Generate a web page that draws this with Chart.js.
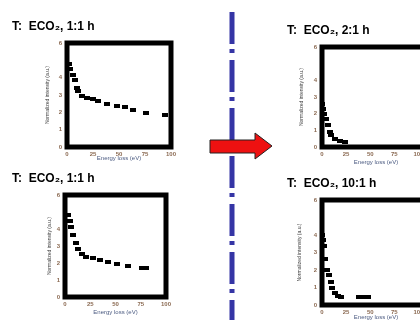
<!DOCTYPE html>
<html>
<head>
<meta charset="utf-8">
<script src="https://cdn.jsdelivr.net/npm/chart.js@4"></script>
<style>
  html, body { margin: 0; padding: 0; background: #fff; width: 420px; height: 320px; overflow: hidden; position: relative; }
  canvas { position: absolute; }
  svg { position: absolute; left: 0; top: 0; }
</style>
</head>
<body>
<canvas id="w1" style="left:0;top:16px" width="180" height="147"></canvas>
<canvas id="w2" style="left:0;top:168px" width="175" height="149"></canvas>
<canvas id="w3" style="left:287px;top:20px" width="148" height="147"></canvas>
<canvas id="w4" style="left:287px;top:173px" width="148" height="148"></canvas>

<svg width="420" height="320">
  <line x1="232" y1="12" x2="232" y2="320" stroke="#3535a5" stroke-width="5" stroke-dasharray="32 5 4 7"/>
  <polygon points="210,140 255,140 255,133 272,146 255,159 255,153 210,153" fill="#ee1111" stroke="#222" stroke-width="1"/>
</svg>

<script>
// dane
const tytuly = ['T:  ECO₂, 1:1 h', 'T:  ECO₂, 1:1 h', 'T:  ECO₂, 2:1 h', 'T:  ECO₂, 10:1 h'];
const osX = 'Energy loss (eV)';
const osY = 'Normalized intensity (a.u.)';
const xTicks = [0, 25, 50, 75, 100];
const yTicks = [0, 1, 2, 3, 4, 6];

const x1 = [1.6, 2.5, 5.4, 7.3, 9.5, 11, 14, 19, 25, 30, 38, 48, 56, 63, 76, 94];
const y1 = [4.8, 4.5, 4.14, 3.84, 3.42, 3.24, 2.94, 2.85, 2.76, 2.64, 2.46, 2.34, 2.28, 2.16, 1.98, 1.86];

const x2 = [3, 5, 6, 8, 10.5, 13, 17, 21, 28, 35, 43, 51, 62, 76, 80];
const y2 = [4.8, 4.5, 4.14, 3.66, 3.18, 2.85, 2.52, 2.34, 2.28, 2.16, 2.04, 1.92, 1.8, 1.71, 1.71];

const x3 = [0.5, 1, 2, 3.8, 6.2, 8, 9.7, 13.2, 18.4, 23.6];
const y3 = [2.58, 2.28, 1.98, 1.68, 1.32, 0.9, 0.72, 0.48, 0.36, 0.3];

const x4 = [0.5, 1, 2, 3.5, 5.5, 7, 9, 10.4, 13.2, 16.7, 20, 38, 43, 48];
const y4 = [4.02, 3.72, 3.36, 2.64, 1.98, 1.74, 1.32, 0.96, 0.66, 0.51, 0.48, 0.44, 0.44, 0.44];

// kreska jako punkt
const kreska = document.createElement('canvas');
kreska.width = 6; kreska.height = 4;
const kctx = kreska.getContext('2d');
kctx.fillStyle = '#000';
kctx.fillRect(0, 0, 6, 4);

const ramka = {
  id: 'ramka',
  beforeDatasetsDraw(chart) {
    const a = chart.chartArea;
    const ctx = chart.ctx;
    ctx.save();
    ctx.strokeStyle = '#000';
    ctx.lineWidth = 5;
    ctx.strokeRect(a.left, a.top, a.right - a.left, a.bottom - a.top);
    ctx.restore();
  }
};

function wykres(id, tytul, xs, ys, o) {
  new Chart(document.getElementById(id), {
    type: 'scatter',
    data: {
      datasets: [{
        data: xs.map((x, i) => ({ x: x, y: ys[i] })),
        pointStyle: kreska,
        showLine: false
      }]
    },
    options: {
      responsive: false,
      animation: false,
      layout: { padding: { left: o.padL, right: o.padR, top: 0, bottom: 0 } },
      plugins: {
        legend: { display: false },
        tooltip: { enabled: false },
        title: {
          display: true, text: tytul, align: 'start', color: '#000',
          font: { family: 'Liberation Sans', size: 12, weight: 'bold', lineHeight: 1 },
          padding: { top: 5, bottom: 10 }
        }
      },
      scales: {
        x: {
          type: 'linear', min: 0, max: o.xMax,
          grid: { display: false, drawTicks: false },
          border: { display: false },
          afterBuildTicks: s => { s.ticks = xTicks.map(v => ({ value: v })); },
          afterFit: s => { s.height = o.xH; },
          ticks: { color: '#8b6a52', padding: 4, maxRotation: 0, font: { family: 'Liberation Sans', size: 6, weight: 'bold' } },
          title: { display: true, text: osX, color: '#4a5a80', padding: { top: 0, bottom: o.xTP }, font: { family: 'Liberation Sans', size: 6, lineHeight: 1 } }
        },
        y: {
          min: 0, max: 6,
          grid: { display: false, drawTicks: false },
          border: { display: false },
          afterBuildTicks: s => { s.ticks = yTicks.map(v => ({ value: v })); },
          afterFit: s => { s.width = o.yW; },
          ticks: { color: '#8b6a52', padding: 5, font: { family: 'Liberation Sans', size: 6, weight: 'bold' } },
          title: { display: true, text: osY, color: '#444', padding: { top: o.yTP, bottom: 0 }, font: { family: 'Liberation Sans', size: 5, lineHeight: 1 } }
        }
      }
    },
    plugins: [ramka]
  });
}

wykres('w1', tytuly[0], x1, y1, { padL: 12, padR: 5, yW: 55, xH: 16, yTP: 33.5, xTP: 2, xMax: 100 });
wykres('w2', tytuly[1], x2, y2, { padL: 12, padR: 5, yW: 53, xH: 20, yTP: 35.5, xTP: 2, xMax: 100 });
wykres('w3', tytuly[2], x3, y3, { padL: 0, padR: 5, yW: 35, xH: 20, yTP: 12.5, xTP: 2, xMax: 112 });
wykres('w4', tytuly[3], x4, y4, { padL: 0, padR: 5, yW: 35, xH: 16, yTP: 10.5, xTP: 1, xMax: 112 });
</script>
</body>
</html>
